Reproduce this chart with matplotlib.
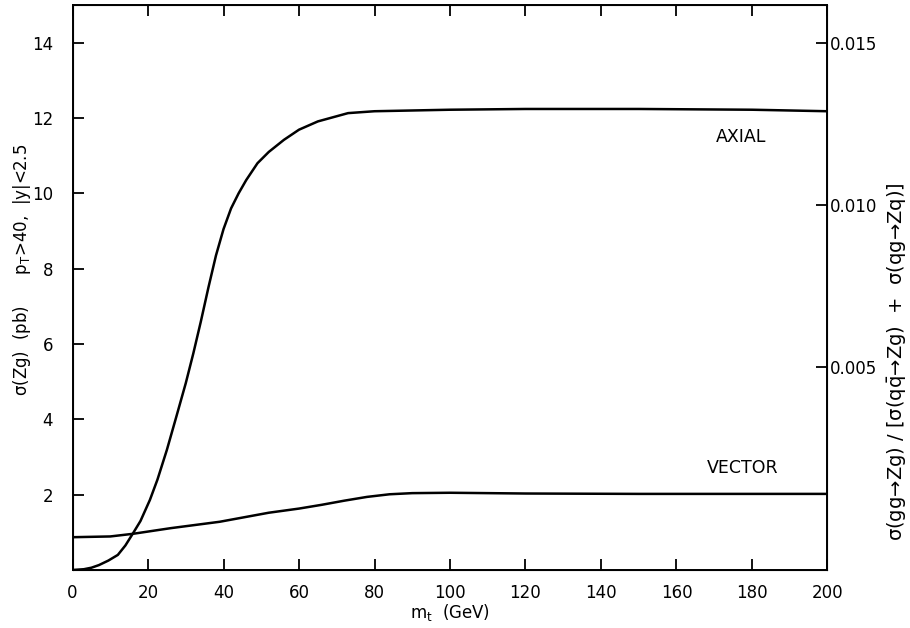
import matplotlib.pyplot as plt

plt.rcParams['font.family'] = 'DejaVu Sans'
plt.rcParams['mathtext.default'] = 'regular'

# --- data ---
mt_axial = [0, 3, 5, 7, 9.5, 12, 14, 16, 18, 20.5, 22.5, 25, 27.5, 30, 32, 34,
            36, 38, 40, 42, 44, 46, 49, 52, 56, 60, 65, 73, 80, 100, 120, 150,
            180, 200]
sig_axial = [0.0, 0.02, 0.06, 0.13, 0.25, 0.40, 0.65, 0.97, 1.3, 1.86, 2.4, 3.19,
             4.07, 4.96, 5.75, 6.6, 7.5, 8.35, 9.05, 9.6, 10.0, 10.35, 10.8, 11.1,
             11.42, 11.69, 11.91, 12.13, 12.18, 12.22, 12.24, 12.24, 12.22, 12.18]

mt_vector = [0, 10, 16, 26, 39, 52, 60, 66, 72, 78, 84, 90, 100, 120, 150, 180, 200]
sig_vector = [0.87, 0.89, 0.96, 1.11, 1.28, 1.52, 1.63, 1.73, 1.84, 1.94, 2.01,
              2.04, 2.05, 2.03, 2.02, 2.02, 2.02]

x_ticks = [0, 20, 40, 60, 80, 100, 120, 140, 160, 180, 200]
y_ticks = [2, 4, 6, 8, 10, 12, 14]
ratio_ticks = [0.005, 0.010, 0.015]
ratio_labels = ['0.005', '0.010', '0.015']

fig = plt.figure(figsize=(9.1, 6.28), dpi=100)
ax = fig.add_axes([0.0797, 0.0924, 0.8296, 0.8996])

ax.plot(mt_axial, sig_axial, color='black', lw=1.8, solid_joinstyle='round')
ax.plot(mt_vector, sig_vector, color='black', lw=1.8, solid_joinstyle='round')

ax.text(177, 11.5, 'AXIAL', ha='center', va='center', fontsize=12.5)
ax.text(177.5, 2.7, 'VECTOR', ha='center', va='center', fontsize=12.5)

ax.set_xlim(0, 200)
ax.set_ylim(0, 15)
ax.set_xticks(x_ticks)
ax.set_yticks(y_ticks)
ax.tick_params(direction='in', length=8, width=1.3, labelsize=12, top=True)
ax.tick_params(axis='y', pad=14)
ax.tick_params(axis='x', pad=10)
for s in ax.spines.values():
    s.set_linewidth(1.4)

ax.set_xlabel('m$_t$  (GeV)', fontsize=12, labelpad=0)

# right-hand ratio scale
ax2 = ax.twinx()
ax2.set_ylim(-0.00127, 0.01617)
ax2.set_yticks(ratio_ticks)
ax2.set_yticklabels(ratio_labels)
ax2.tick_params(direction='in', length=8, width=1.3, labelsize=12, pad=2)

fig.text(0.024, 0.57, r'σ(Zg)  (pb)      p$_T$>40,  |y|<2.5', rotation=90,
         ha='center', va='center', fontsize=12)
fig.text(0.985, 0.424, r'σ(gg→Zg) / [σ(q$\bar{q}$→Zg)  +  σ(qg→Zq)]', rotation=90,
         ha='center', va='center', fontsize=14)

plt.savefig('out.png', dpi=100)
